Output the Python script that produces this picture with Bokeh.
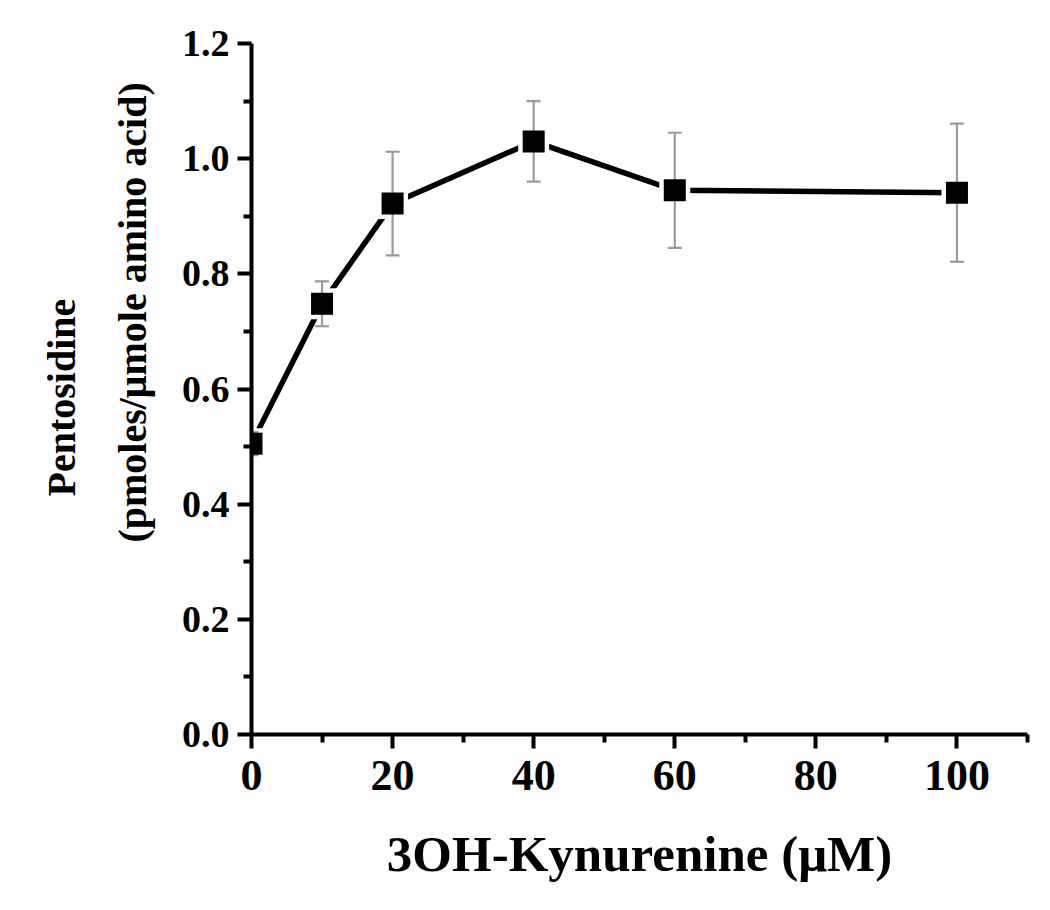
import math
from bokeh.plotting import figure
from bokeh.models import FixedTicker, Range1d
from bokeh.layouts import row
from bokeh.core.properties import value
from bokeh.embed import file_html
from bokeh.resources import INLINE

# Data
conc = [0, 10, 20, 40, 60, 100]
pentosidine = [0.505, 0.748, 0.922, 1.030, 0.945, 0.941]
err = [0.02, 0.039, 0.09, 0.07, 0.10, 0.12]

x_ticks = [0, 20, 40, 60, 80, 100]
x_minor = [10, 30, 50, 70, 90, 110]
y_ticks = [0.0, 0.2, 0.4, 0.6, 0.8, 1.0, 1.2]
y_minor = [0.1, 0.3, 0.5, 0.7, 0.9, 1.1]
y_tick_labels = ["0.0", "0.2", "0.4", "0.6", "0.8", "1.0", "1.2"]

x_title = "3OH-Kynurenine (\u03bcM)"
y_title_lines = ["Pentosidine", "(pmoles/\u03bcmole amino acid)"]

FONT = "Liberation Serif"
LEFT_W = 175

yr = Range1d(0, 1.2)

p = figure(
    frame_width=776, frame_height=691,
    min_border_left=251 - LEFT_W, min_border_right=16, min_border_top=43, min_border_bottom=160,
    x_range=(0, 110), y_range=yr,
    output_backend="svg", toolbar_location=None,
)
p.outline_line_color = None
p.grid.grid_line_color = None
p.background_fill_color = "white"
p.border_fill_color = "white"

lower = [v - e for v, e in zip(pentosidine, err)]
upper = [v + e for v, e in zip(pentosidine, err)]

# connecting line
p.line(conc, pentosidine, line_color="black", line_width=5.5)
# white halo making the gap between line and markers
p.scatter(conc, pentosidine, marker="square", size=31, fill_color="white", line_color=None)
# error bars
p.segment(conc, lower, conc, upper, line_color="#9a9a9a", line_width=2.2)
p.scatter(conc, upper, marker="dash", size=14, line_color="#9a9a9a", line_width=2.2)
p.scatter(conc, lower, marker="dash", size=14, line_color="#9a9a9a", line_width=2.2)
# markers
p.scatter(conc, pentosidine, marker="square", size=22, fill_color="black", line_color=None)

p.xaxis.ticker = FixedTicker(ticks=x_ticks, minor_ticks=x_minor)
p.yaxis.ticker = FixedTicker(ticks=y_ticks, minor_ticks=y_minor)
p.yaxis.major_label_overrides = {t: l for t, l in zip(y_ticks, y_tick_labels)}

for ax in (p.xaxis[0], p.yaxis[0]):
    ax.axis_line_width = 4
    ax.axis_line_color = "black"
    ax.major_tick_line_width = 4
    ax.minor_tick_line_width = 4
    ax.major_tick_out = 14
    ax.major_tick_in = 0
    ax.minor_tick_out = 8
    ax.minor_tick_in = 0
    ax.major_label_text_font = FONT
    ax.major_label_text_font_style = "bold"
    ax.major_label_text_color = "black"
    ax.axis_label_text_font = FONT
    ax.axis_label_text_font_style = "bold"
    ax.axis_label_text_color = "black"

p.xaxis.major_label_text_font_size = "44px"
p.yaxis.major_label_text_font_size = "38px"
p.xaxis.major_label_standoff = 12
p.yaxis.major_label_standoff = 8
p.xaxis.axis_label = x_title
p.xaxis.axis_label_text_font_size = "51px"
p.xaxis.axis_label_standoff = 33

# left strip holding the two-line, rotated y-axis title
pl = figure(
    frame_width=LEFT_W, frame_height=691,
    min_border_left=0, min_border_right=0, min_border_top=43, min_border_bottom=160,
    x_range=(0, LEFT_W), y_range=yr,
    x_axis_location=None, y_axis_location=None,
    output_backend="svg", toolbar_location=None,
)
pl.outline_line_color = None
pl.grid.grid_line_color = None
pl.border_fill_color = "white"
pl.text(x=[61, 132], y=[0.585, 0.733], text=y_title_lines, angle=math.pi / 2,
        text_align="center", text_baseline="middle",
        text_font=value(FONT), text_font_style="bold", text_color="black",
        text_font_size="40px")

layout = row(pl, p, spacing=0)
open("out.html", "w").write(file_html(layout, INLINE))
